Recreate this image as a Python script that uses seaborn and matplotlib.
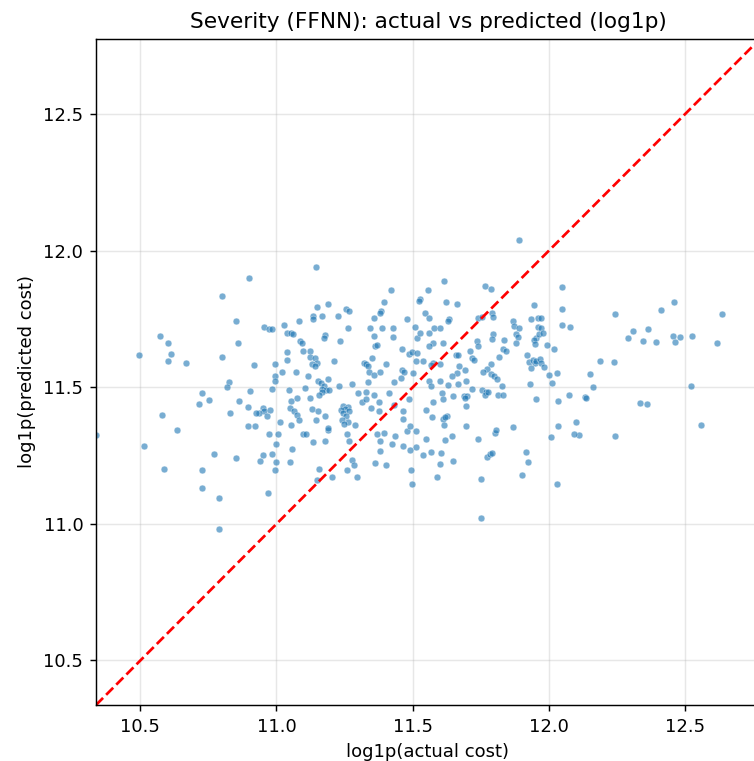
import numpy as np
import pandas as pd
import matplotlib
matplotlib.use("Agg")
import matplotlib.pyplot as plt
import seaborn as sns

# log1p(actual cost)
actual_log = [
    10.900, 10.800, 10.853, 11.144, 11.420, 11.396, 11.188, 11.148, 11.255, 11.267,
    11.385, 11.380, 11.169, 11.135, 11.135, 11.226, 11.359, 11.081, 11.478, 11.028,
    10.954, 10.973, 10.983, 11.261, 11.343, 11.386, 11.429, 11.508, 11.890, 11.615,
    11.765, 11.789, 12.049, 11.556, 11.529, 11.524, 11.624, 11.663, 11.947, 12.049,
    11.546, 11.561, 11.635, 11.629, 11.739, 11.754, 11.792, 11.794, 11.868, 11.935,
    11.960, 11.972, 12.049, 12.078, 11.579, 11.600, 11.874, 11.892, 11.960, 11.972,
    12.245, 12.414, 12.462, 12.637, 12.311, 12.365, 10.572, 10.600, 10.495, 10.611,
    10.600, 10.669, 10.858, 10.799, 10.918, 10.824, 10.820, 10.902, 10.728, 10.752,
    10.717, 10.862, 10.897, 10.828, 10.581, 10.635, 10.897, 10.921, 10.336, 10.515,
    10.769, 10.853, 10.587, 10.728, 10.728, 10.790, 10.790, 12.110, 12.245, 12.560,
    12.292, 12.347, 12.394, 12.457, 12.463, 12.483, 12.526, 12.618, 12.190, 12.239,
    12.152, 12.162, 12.133, 12.137, 12.337, 12.361, 12.521, 12.100, 11.512, 11.551,
    11.619, 11.645, 11.740, 11.803, 11.512, 11.537, 11.566, 11.604, 11.599, 11.648,
    11.773, 11.784, 11.790, 11.915, 11.925, 11.901, 11.590, 11.751, 12.007, 12.032,
    11.751, 12.094, 10.973, 11.007, 11.099, 11.108, 11.188, 11.260, 10.997, 11.135,
    11.179, 11.265, 11.056, 10.949, 10.983, 10.940, 10.997, 11.051, 10.994, 10.969,
    11.157, 11.148, 11.203, 11.260, 11.279, 11.285, 11.294, 11.371, 11.396, 11.381,
    11.436, 11.424, 11.381, 11.464, 11.479, 11.490, 11.361, 11.402, 11.493, 11.499,
    11.040, 11.055, 11.061, 11.086, 11.092, 11.179, 11.174, 11.357, 11.429, 11.124,
    11.096, 11.038, 11.037, 11.124, 11.140, 11.149, 11.132, 11.142, 11.212, 11.233,
    11.363, 11.371, 11.350, 11.320, 11.329, 11.335, 11.340, 11.360, 11.380, 11.404,
    11.460, 11.485, 11.497, 11.461, 11.469, 11.500, 11.456, 11.430, 11.337, 11.276,
    11.230, 11.191, 11.151, 11.163, 11.175, 11.169, 11.181, 11.167, 11.157, 11.193,
    11.114, 11.071, 11.022, 10.994, 10.995, 10.994, 10.985, 11.046, 11.105, 11.053,
    11.077, 11.051, 11.065, 11.075, 11.081, 11.124, 11.130, 11.151, 11.179, 11.190,
    11.299, 11.328, 11.359, 11.314, 11.328, 11.377, 11.349, 11.377, 11.414, 11.430,
    11.488, 11.463, 11.246, 11.263, 11.252, 11.238, 11.243, 11.265, 11.255, 11.240,
    11.261, 11.249, 11.289, 10.949, 10.954, 10.975, 10.967, 10.936, 10.924, 11.013,
    11.053, 11.144, 11.491, 11.463, 11.518, 11.527, 11.559, 11.574, 11.561, 11.518,
    11.537, 11.512, 11.576, 11.567, 11.600, 11.659, 11.665, 11.610, 11.711, 11.736,
    11.740, 11.794, 11.790, 11.835, 11.833, 11.844, 11.880, 11.886, 11.880, 11.953,
    11.945, 11.951, 11.963, 11.978, 11.993, 12.021, 11.920, 11.929, 11.941, 11.949,
    11.953, 11.968, 11.972, 11.935, 11.982, 12.002, 12.031, 12.012, 11.930, 12.076,
    12.033, 11.953, 11.818, 11.788, 11.772, 11.757, 11.788, 11.800, 11.810, 11.828,
    11.718, 11.726, 11.671, 11.662, 11.645, 11.693, 11.696, 11.665, 11.629, 11.600,
    11.561, 11.567, 11.718, 11.754, 11.770, 11.765, 11.776, 11.813, 11.833, 11.690,
    11.699, 11.693, 11.696, 11.649, 11.608, 11.610, 11.576, 11.549, 11.571, 11.610,
    11.625, 11.620, 11.614, 11.696, 11.806, 11.868, 12.033,
]

# log1p(predicted cost), same order
pred_log = [
    11.900, 11.835, 11.744, 11.941, 11.858, 11.811, 11.807, 11.795, 11.787, 11.778,
    11.780, 11.774, 11.762, 11.762, 11.750, 11.762, 11.754, 11.744, 11.752, 11.728,
    11.721, 11.714, 11.714, 11.719, 11.716, 11.719, 11.719, 11.723, 12.038, 11.888,
    11.873, 11.860, 11.869, 11.855, 11.824, 11.818, 11.811, 11.806, 11.801, 11.787,
    11.774, 11.754, 11.752, 11.745, 11.754, 11.757, 11.774, 11.757, 11.744, 11.752,
    11.754, 11.754, 11.730, 11.721, 11.716, 11.719, 11.726, 11.716, 11.723, 11.719,
    11.767, 11.783, 11.811, 11.767, 11.708, 11.713, 11.690, 11.661, 11.617, 11.622,
    11.598, 11.588, 11.661, 11.612, 11.583, 11.521, 11.501, 11.488, 11.478, 11.454,
    11.439, 11.449, 11.429, 11.406, 11.400, 11.345, 11.359, 11.357, 11.327, 11.284,
    11.256, 11.240, 11.202, 11.198, 11.130, 11.096, 10.980, 11.327, 11.322, 11.361,
    11.681, 11.671, 11.666, 11.690, 11.666, 11.685, 11.690, 11.661, 11.598, 11.593,
    11.550, 11.501, 11.466, 11.463, 11.444, 11.439, 11.506, 11.375, 11.339, 11.310,
    11.307, 11.323, 11.310, 11.332, 11.282, 11.251, 11.265, 11.260, 11.221, 11.232,
    11.246, 11.257, 11.260, 11.265, 11.227, 11.179, 11.173, 11.163, 11.318, 11.145,
    11.023, 11.328, 11.328, 11.328, 11.330, 11.330, 11.345, 11.328, 11.294, 11.299,
    11.304, 11.304, 11.274, 11.251, 11.255, 11.232, 11.227, 11.227, 11.198, 11.112,
    11.202, 11.160, 11.173, 11.198, 11.235, 11.217, 11.173, 11.328, 11.332, 11.302,
    11.323, 11.294, 11.266, 11.284, 11.339, 11.271, 11.222, 11.217, 11.198, 11.145,
    11.699, 11.699, 11.694, 11.671, 11.662, 11.692, 11.681, 11.689, 11.684, 11.635,
    11.632, 11.628, 11.602, 11.613, 11.606, 11.589, 11.585, 11.577, 11.598, 11.671,
    11.651, 11.656, 11.608, 11.591, 11.587, 11.577, 11.558, 11.546, 11.555, 11.584,
    11.641, 11.623, 11.630, 11.565, 11.555, 11.553, 11.534, 11.521, 11.520, 11.512,
    11.506, 11.532, 11.525, 11.516, 11.506, 11.494, 11.491, 11.485, 11.473, 11.491,
    11.540, 11.555, 11.558, 11.584, 11.543, 11.522, 11.495, 11.491, 11.496, 11.452,
    11.463, 11.424, 11.415, 11.400, 11.382, 11.463, 11.421, 11.412, 11.396, 11.353,
    11.479, 11.483, 11.473, 11.445, 11.457, 11.445, 11.423, 11.413, 11.479, 11.437,
    11.457, 11.415, 11.433, 11.430, 11.421, 11.418, 11.408, 11.412, 11.396, 11.382,
    11.375, 11.367, 11.363, 11.424, 11.412, 11.418, 11.396, 11.406, 11.406, 11.373,
    11.361, 11.382, 11.357, 11.384, 11.681, 11.699, 11.699, 11.664, 11.650, 11.626,
    11.595, 11.595, 11.589, 11.583, 11.585, 11.619, 11.617, 11.662, 11.635, 11.671,
    11.652, 11.696, 11.677, 11.674, 11.641, 11.632, 11.696, 11.686, 11.664, 11.681,
    11.674, 11.660, 11.696, 11.701, 11.656, 11.641, 11.618, 11.594, 11.599, 11.591,
    11.595, 11.605, 11.589, 11.571, 11.574, 11.546, 11.551, 11.516, 11.512, 11.473,
    11.449, 11.457, 11.613, 11.584, 11.567, 11.556, 11.550, 11.540, 11.531, 11.506,
    11.607, 11.601, 11.577, 11.553, 11.543, 11.565, 11.522, 11.512, 11.507, 11.525,
    11.522, 11.506, 11.494, 11.491, 11.482, 11.472, 11.484, 11.473, 11.473, 11.469,
    11.467, 11.461, 11.433, 11.467, 11.479, 11.457, 11.445, 11.418, 11.392, 11.384,
    11.396, 11.392, 11.361, 11.357, 11.345, 11.355, 11.357,
]

# axis range shared by both axes (diagonal runs corner to corner)
lims = [10.337, 12.776]

df = pd.DataFrame({"actual": actual_log, "pred": pred_log})

# rendered at a higher dpi so text comes out larger, like the reference
fig = plt.figure(figsize=(754 / 130, 761 / 130), dpi=130)
ax = fig.add_axes([0.1273, 0.0736, 0.8806, 0.8752])

sns.scatterplot(data=df, x="actual", y="pred", s=14, alpha=0.6, color="#1f77b4", ax=ax)
ax.plot(lims, lims, "r--", linewidth=1.5)

ax.set_xlim(lims)
ax.set_ylim(lims)
ax.set_xticks([10.5, 11.0, 11.5, 12.0, 12.5])
ax.set_yticks([10.5, 11.0, 11.5, 12.0, 12.5])
ax.grid(True, alpha=0.3)
ax.set_axisbelow(True)

ax.set_title("Severity (FFNN): actual vs predicted (log1p)")
ax.set_xlabel("log1p(actual cost)")
ax.set_ylabel("log1p(predicted cost)")

plt.savefig("out.png", dpi=130)
